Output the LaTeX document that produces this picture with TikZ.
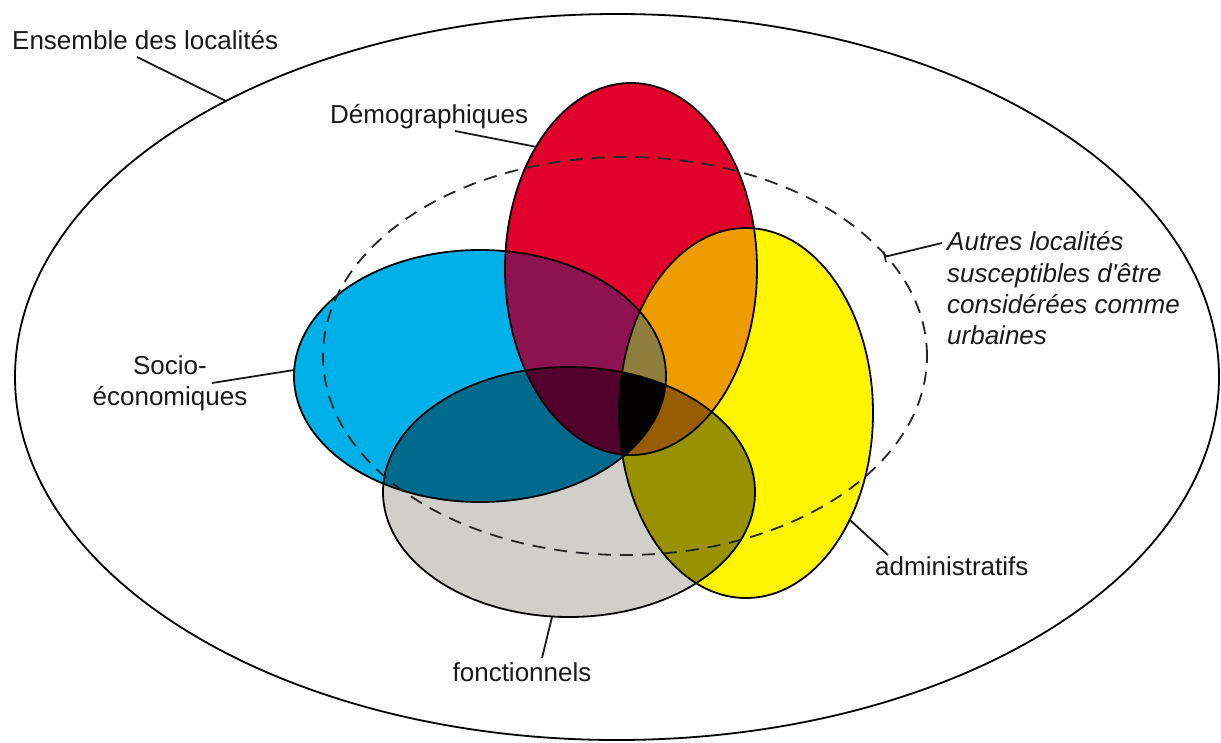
\documentclass[tikz,border=0pt]{standalone}
\usepackage{fontspec}
\setmainfont{Liberation Sans}[Ligatures=TeXOff]
\usetikzlibrary{arrows.meta}
\definecolor{cR}{HTML}{E1002B}
\definecolor{cB}{HTML}{00B1E9}
\definecolor{cY}{HTML}{FFF500}
\definecolor{cG}{HTML}{D1CFCC}
\definecolor{cRB}{HTML}{8C1350}
\definecolor{cRY}{HTML}{EE9C00}
\definecolor{cRG}{HTML}{9A0022}
\definecolor{cBY}{HTML}{3C9A46}
\definecolor{cBG}{HTML}{006A8C}
\definecolor{cYG}{HTML}{989200}
\definecolor{cRBY}{HTML}{8E7E3E}
\definecolor{cRBG}{HTML}{52002C}
\definecolor{cRYG}{HTML}{975B00}
\definecolor{cBYG}{HTML}{2E5A2E}
\definecolor{cRBYG}{HTML}{050000}
\definecolor{txt}{HTML}{1A1A1A}
\def\ellO{(617,377) ellipse [x radius=602pt, y radius=363pt]}
\def\ellD{(625,356) ellipse [x radius=302pt, y radius=199pt]}
\def\ellR{(631,269) ellipse [x radius=126pt, y radius=186pt]}
\def\ellB{(480,376) ellipse [x radius=186pt, y radius=126pt]}
\def\ellY{(746,413) ellipse [x radius=127pt, y radius=185pt]}
\def\ellG{(569,492) ellipse [x radius=186pt, y radius=125pt]}
\begin{document}
\begin{tikzpicture}[x=1pt,y=-1pt,
  lbl/.style={font=\fontsize{26}{31}\selectfont, text=txt, inner sep=0pt},
  ilbl/.style={lbl, font=\fontsize{26}{31}\selectfont\itshape, anchor=base west},
  conn/.style={draw=txt, line width=1.8pt},
  outline/.style={draw=black, line width=1.8pt},
  dashline/.style={draw=black!85, line width=1.8pt, dash pattern=on 13pt off 9pt}]
\useasboundingbox (0,0) rectangle (1221,742);
\fill[white] (0,0) rectangle (1221,742);
% singles
\fill[cR] \ellR;
\fill[cB] \ellB;
\fill[cY] \ellY;
\fill[cG] \ellG;
% pairs
\begin{scope}\clip \ellR; \fill[cRB] \ellB; \end{scope}
\begin{scope}\clip \ellR; \fill[cRY] \ellY; \end{scope}
\begin{scope}\clip \ellR; \fill[cRG] \ellG; \end{scope}
\begin{scope}\clip \ellB; \fill[cBY] \ellY; \end{scope}
\begin{scope}\clip \ellB; \fill[cBG] \ellG; \end{scope}
\begin{scope}\clip \ellY; \fill[cYG] \ellG; \end{scope}
% triples
\begin{scope}\clip \ellR; \clip \ellB; \fill[cRBY] \ellY; \end{scope}
\begin{scope}\clip \ellR; \clip \ellB; \fill[cRBG] \ellG; \end{scope}
\begin{scope}\clip \ellR; \clip \ellY; \fill[cRYG] \ellG; \end{scope}
\begin{scope}\clip \ellB; \clip \ellY; \fill[cBYG] \ellG; \end{scope}
% all four
\begin{scope}\clip \ellR; \clip \ellB; \clip \ellY; \fill[cRBYG] \ellG; \end{scope}
% outlines
\path[outline] \ellO;
\path[outline] \ellR;
\path[outline] \ellB;
\path[outline] \ellY;
\path[outline] \ellG;
\path[dashline] \ellD;
% labels
\node[lbl, anchor=base west] (ens) at (12,49) {Ensemble des localités};
\node[lbl, anchor=base west] (demo) at (330,123) {Démographiques};
\node[lbl, anchor=base] (soc1) at (170,374) {Socio-};
\node[lbl, anchor=base] (soc2) at (170,405) {économiques};
\node[lbl, anchor=base] (fonc) at (522,681) {fonctionnels};
\node[lbl, anchor=base west] (adm) at (875,575) {administratifs};
\node[ilbl] (aut1) at (947,250) {Autres localités};
\node[ilbl] (aut2) at (947,282) {susceptibles d'être};
\node[ilbl] (aut3) at (947,313) {considérées comme};
\node[ilbl] (aut4) at (947,344) {urbaines};
% connector ends
\coordinate (ensA) at (137,57);   \coordinate (ensB) at (226,101);
\coordinate (demA) at (455,131);  \coordinate (demB) at (537,147);
\coordinate (socA) at (212,383);  \coordinate (socB) at (294,370);
\coordinate (fonA) at (542,658);  \coordinate (fonB) at (552,617);
\coordinate (admA) at (888,555);  \coordinate (admB) at (850,520);
\coordinate (autA) at (942,243);  \coordinate (autB) at (884,257);
\draw[conn] (ensA) -- (ensB);
\draw[conn] (demA) -- (demB);
\draw[conn] (socA) -- (socB);
\draw[conn] (fonA) -- (fonB);
\draw[conn] (admA) -- (admB);
\draw[conn, -{Bar[width=11pt, line width=1.6pt]}] (autA) -- (autB);
\end{tikzpicture}
\end{document}
